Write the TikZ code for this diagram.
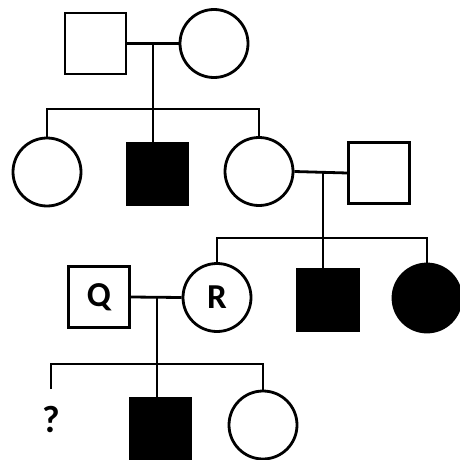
\documentclass[tikz,border=0pt]{standalone}
\usepackage{fontspec}
\newfontfamily\lblfont{Carlito Bold}
\begin{document}
\begin{tikzpicture}[x=1pt,y=-1pt,
  male/.style={draw, rectangle, minimum size=61pt, inner sep=0pt, line width=2.8pt},
  female/.style={draw, circle, minimum size=68pt, inner sep=0pt, line width=2.8pt},
  affected/.style={fill=black},
  lbl/.style={font=\lblfont\fontsize{35}{35}\selectfont},
  qlbl/.style={font=\lblfont\fontsize{38}{38}\selectfont},
  link/.style={line width=2.8pt}]
\useasboundingbox (0,0) rectangle (459,460);

% generation I
\node[male]   (I1) at (95.5,43.5) {};
\node[female] (I2) at (214,43.5) {};
% generation II
\node[female]          (II1) at (47,172) {};
\node[male, affected]  (II2) at (157.5,174) {};
\node[female]          (II3) at (259,171.5) {};
\node[male]            (II4) at (379,173) {};
% generation III
\node[male, lbl]             (Q)    at (99,297) {Q};
\node[female, lbl]           (R)    at (217,297.5) {R};
\node[male, affected]        (III3) at (328,300) {};
\node[female, affected]      (III4) at (427,298) {};
% generation IV
\node[qlbl, inner sep=0pt]   (IV1) at (51,420) {?};
\node[male, affected]        (IV2) at (160.5,428.5) {};
\node[female]                (IV3) at (263,425) {};

% marriage and descent points
\coordinate (m1) at (153,43.5);
\coordinate (s1) at (153,109);
\coordinate (m2) at (323,172);
\coordinate (s2) at (323,238);
\coordinate (m3) at (157,298);
\coordinate (s3) at (157,364);
\coordinate (q)  at (51,389);

% couples
\draw[link] (I1.east) -- (I2.west);
\draw[link] (II3.east) -- (II4.west);
\draw[link] (Q.east) -- (R.west);

% sibship I -> II
\draw[link] (m1) -- (m1 |- II2.north);
\draw[link] (II1.north) |- (s1) -| (II3.north);
% sibship II -> III
\draw[link] (m2) -- (m2 |- III3.north);
\draw[link] (R.north) |- (s2) -| (III4.north);
% sibship III -> IV
\draw[link] (m3) -- (m3 |- IV2.north);
\draw[link] (q) |- (s3) -| (IV3.north);
\end{tikzpicture}
\end{document}
